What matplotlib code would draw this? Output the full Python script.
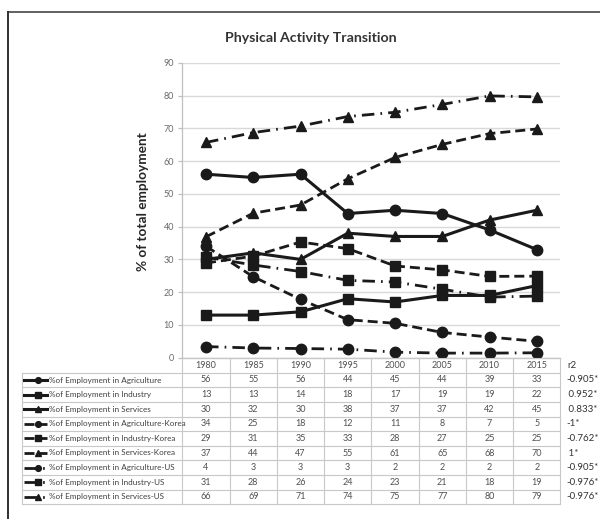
import matplotlib
matplotlib.use("Agg")
import matplotlib.pyplot as plt
from matplotlib.lines import Line2D
import matplotlib.transforms as mtransforms

# ---------------- data ----------------
years = ["1980", "1985", "1990", "1995", "2000", "2005", "2010", "2015"]

series_names = [
    "%of Employment in Agriculture",
    "%of Employment in Industry",
    "%of Employment in Services",
    "%of Employment in Agriculture-Korea",
    "%of Employment in Industry-Korea",
    "%of Employment in Services-Korea",
    "%of Employment in Agriculture-US",
    "%of Employment in Industry-US",
    "%of Employment in Services-US",
]

# values as plotted
agri = [56, 55, 56, 44, 45, 44, 39, 33]
industry = [13, 13, 14, 18, 17, 19, 19, 22]
services = [30, 32, 30, 38, 37, 37, 42, 45]
agri_kr = [34.0, 24.7, 17.8, 11.6, 10.5, 7.7, 6.3, 5.0]
industry_kr = [28.9, 31.0, 35.3, 33.3, 28.0, 26.8, 24.8, 24.9]
services_kr = [36.9, 44.1, 46.6, 54.6, 61.1, 65.1, 68.4, 69.8]
agri_us = [3.4, 2.95, 2.8, 2.6, 1.7, 1.4, 1.4, 1.5]
industry_us = [30.7, 28.3, 26.3, 23.6, 23.1, 20.9, 18.5, 18.8]
services_us = [65.7, 68.7, 70.7, 73.6, 74.9, 77.3, 79.9, 79.6]

# values as printed in the data table
table_values = [
    [56, 55, 56, 44, 45, 44, 39, 33],
    [13, 13, 14, 18, 17, 19, 19, 22],
    [30, 32, 30, 38, 37, 37, 42, 45],
    [34, 25, 18, 12, 11, 8, 7, 5],
    [29, 31, 35, 33, 28, 27, 25, 25],
    [37, 44, 47, 55, 61, 65, 68, 70],
    [4, 3, 3, 3, 2, 2, 2, 2],
    [31, 28, 26, 24, 23, 21, 18, 19],
    [66, 69, 71, 74, 75, 77, 80, 79],
]
r2_values = ["-0.905*", " 0.952*", " 0.833*", "-1*", "-0.762*", " 1*",
             "-0.905*", "-0.976*", "-0.976*"]

plot_series = [agri, industry, services, agri_kr, industry_kr, services_kr,
               agri_us, industry_us, services_us]

# ---------------- styles ----------------
W, H = 600, 519
FONT = "Lato"
dash_kr = (0, (3.6, 1.8))
dash_us = (0, (4.5, 2.2, 0.6, 2.2))
styles = []
for grp in range(3):
    ls = ["-", dash_kr, dash_us][grp]
    lw = [2.2, 2.0, 2.0][grp]
    for mk in ["o", "s", "^"]:
        ms = {"o": 7.5, "s": 7.0, "^": 7.5}[mk]
        styles.append(dict(ls=ls, lw=lw, marker=mk, ms=ms))

ink = "#1a1a1a"
grid_c = "#d9d9d9"
table_c = "#c8c8c8"
txt_c = "#505050"

fig = plt.figure(figsize=(W / 100, H / 100), dpi=100)
fig.patch.set_facecolor("white")

def fx(x):
    return x / W

def fy(y):
    return 1 - y / H

ax_left, ax_right, ax_top, ax_bottom = 182.4, 560.4, 62.8, 357.7
ax = fig.add_axes([fx(ax_left), fy(ax_bottom), fx(ax_right - ax_left),
                   (ax_bottom - ax_top) / H])
x = list(range(len(years)))
for vals, st in zip(plot_series, styles):
    ax.plot(x, vals, color=ink, linestyle=st["ls"], linewidth=st["lw"],
            marker=st["marker"], markersize=st["ms"], markerfacecolor=ink,
            markeredgecolor=ink, zorder=3)

ax.set_xlim(-0.5, len(years) - 0.5)
ax.set_ylim(0, 90)
ax.set_yticks(range(0, 91, 10))
ax.set_xticks([])
ax.yaxis.grid(True, color=grid_c, linewidth=1.0)
ax.set_axisbelow(True)
for s in ["top", "right"]:
    ax.spines[s].set_visible(False)
ax.spines["left"].set_color("#bfbfbf")
ax.spines["bottom"].set_color("#bfbfbf")
ax.spines["left"].set_linewidth(0.9)
ax.spines["bottom"].set_linewidth(0.9)
ax.tick_params(axis="y", colors="#bfbfbf", length=3, width=0.9, pad=3,
               labelcolor="#6a6a6a", labelsize=6.5)
for lab in ax.get_yticklabels():
    lab.set_fontfamily(FONT)

# title & y label
fig.text(fx(311), fy(38), "Physical Activity Transition", ha="center",
         va="center", fontsize=10.2, fontweight="bold", family=FONT,
         color="#333333")
fig.text(fx(143), fy(202), "% of total employment", ha="center",
         va="center", rotation=90, fontsize=9.8, fontweight="bold",
         family=FONT, color="#262626")

# ---------------- data table ----------------
blend = mtransforms.blended_transform_factory(ax.transData, fig.transFigure)
row_top = 372.7
row_h = 14.6
n_rows = len(series_names)
tbl_left = 22
tbl_bottom = row_top + n_rows * row_h

def hline(x0, x1, y, **kw):
    fig.add_artist(Line2D([fx(x0), fx(x1)], [fy(y), fy(y)],
                          transform=fig.transFigure, color=table_c,
                          linewidth=0.8, **kw))

def vline(x0, y0, y1):
    fig.add_artist(Line2D([fx(x0), fx(x0)], [fy(y0), fy(y1)],
                          transform=fig.transFigure, color=table_c,
                          linewidth=0.8))

# horizontal lines
hline(ax_left, ax_right, ax_bottom)
for i in range(n_rows + 1):
    hline(tbl_left, ax_right, row_top + i * row_h)
# vertical lines
vline(tbl_left, row_top, tbl_bottom)
for i in range(len(years) + 1):
    xb = -0.5 + i
    fig.add_artist(Line2D([xb, xb], [fy(ax_bottom), fy(tbl_bottom)],
                          transform=blend, color=table_c, linewidth=0.8))

# header years
for i, yr in enumerate(years):
    fig.text(i, fy(365.5), yr, transform=blend, ha="center", va="center",
             fontsize=6.5, family=FONT, color=txt_c)

# rows
for r, (name, vals, st) in enumerate(zip(series_names, table_values, styles)):
    yc = row_top + (r + 0.5) * row_h
    # legend key
    k0, k1 = 24, 47
    fig.add_artist(Line2D([fx(k0), fx((k0 + k1) / 2 + 2), fx(k1)],
                          [fy(yc)] * 3, transform=fig.transFigure,
                          color=ink, linestyle=st["ls"],
                          linewidth=st["lw"], marker=st["marker"],
                          markersize=st["ms"] * 0.55, markevery=[1],
                          markerfacecolor=ink, markeredgecolor=ink))
    fig.text(fx(49), fy(yc), name, ha="left", va="center", fontsize=5.9,
             family=FONT, color="#404040")
    for i, v in enumerate(vals):
        fig.text(i, fy(yc), str(v), transform=blend, ha="center",
                 va="center", fontsize=6.5, family=FONT, color=txt_c)
    fig.text(fx(566), fy(yc), r2_values[r], ha="left", va="center",
             fontsize=7, family=FONT, color="#333333")

fig.text(fx(567), fy(366), "r2", ha="left", va="center", fontsize=7,
         family=FONT, color="#333333")

# outer frame (top and left edges)
fig.add_artist(Line2D([fx(8), 1.0], [fy(12), fy(12)],
                      transform=fig.transFigure, color="#606060",
                      linewidth=1.4))
fig.add_artist(Line2D([fx(8), fx(8)], [fy(12), 0.0],
                      transform=fig.transFigure, color="#303030",
                      linewidth=1.4))

fig.savefig("out.png", dpi=100)
